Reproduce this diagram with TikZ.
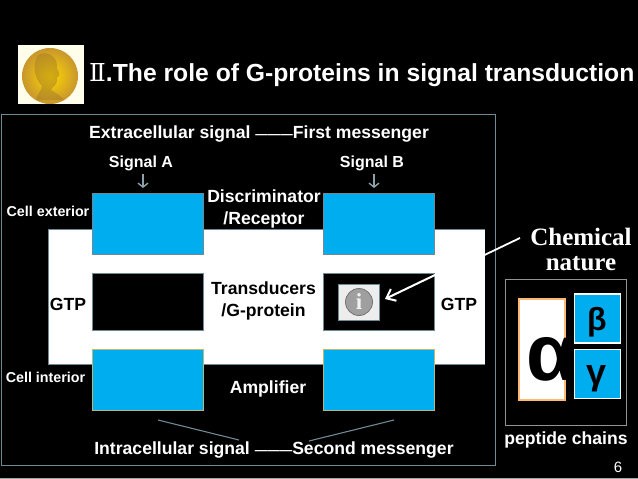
\documentclass[tikz,border=0pt]{standalone}
\usepackage{fontspec}
\usetikzlibrary{arrows.meta}
\setmainfont{Liberation Sans}
\newfontfamily\serifbold{Liberation Serif}
\newfontfamily\romanfont{DejaVu Serif}
\definecolor{framec}{HTML}{6F8A94}
\definecolor{cyanbox}{HTML}{00AEEF}
\definecolor{gold}{HTML}{C8962E}
\tikzset{
  px/.style={x=1pt,y=-1pt},
  lab/.style={text=white,font=\fontsize{#1}{22}\selectfont\bfseries,inner sep=0pt,align=center},
  lab/.default=17.6,
  dark/.style={text=black,font=\fontsize{17.6}{22}\selectfont\bfseries,inner sep=0pt,align=center},
  bluebox/.style={draw=#1,line width=1pt,fill=cyanbox,minimum width=111pt,minimum height=61pt,inner sep=0pt},
  blackbox/.style={draw=framec,line width=.8pt,fill=black,minimum width=111pt,minimum height=57pt,inner sep=0pt},
  thinline/.style={draw=framec,line width=1.1pt},
  subunit/.style={draw=white,line width=1.2pt,fill=cyanbox,minimum width=46pt,minimum height=49pt,inner sep=0pt},
}
\newcommand{\lightdash}{{\fontsize{12.5}{12.5}\selectfont ———}}
\begin{document}
\begin{tikzpicture}[px]
\useasboundingbox (0,0) rectangle (638,479);
\fill[black] (0,0) rectangle (638,479);
\draw[draw=gray!70,line width=.7pt] (0,478) -- (638,478);
% medal
\node[fill=white!92!yellow,minimum width=66pt,minimum height=59pt,inner sep=0pt] (medalbg) at (50.5,74) {};
\shade[inner color=yellow!70!orange,outer color=gold] (50,76) circle (28);
\fill[gold!80!black,opacity=.45] (38,55) .. controls (47,50) and (58,56) .. (57,68) .. controls (60,73) and (60,76) .. (57,78) .. controls (58,86) and (52,86) .. (51,90) .. controls (58,94) and (62,97) .. (64,100) -- (36,100) .. controls (38,92) and (42,90) .. (42,86) .. controls (34,78) and (32,64) .. (38,55) -- cycle;
% title
\node[anchor=base west,text=white,font=\fontsize{24.7}{25}\selectfont\bfseries,inner sep=0pt] (title) at (89,81) {{\romanfont\mdseries Ⅱ}.The role of G-proteins in signal transduction};
% frame
\draw[framec,line width=1pt] (1,114) rectangle (495.5,465);
\fill[white] (48,229) rectangle (485,364);
\draw[framec,line width=.7pt] (48,364) -- (48,229) -- (485,229);
\draw[framec,line width=.7pt] (48,364) -- (485,364);
% boxes
\node[bluebox=framec] (recA) at (148,223.5) {};
\node[bluebox=framec] (recB) at (379,223.5) {};
\node[blackbox] (gA) at (148,301.5) {};
\node[blackbox] (gB) at (379,301.5) {};
\node[bluebox=gray!60!yellow] (ampA) at (148,379.5) {};
\node[bluebox=gray!60!yellow] (ampB) at (379,379.5) {};
% info icon
\node[draw=framec,line width=1pt,fill=white!93!black,minimum width=41pt,minimum height=36pt,inner sep=0pt] (info) at (359,302) {};
\node[circle,draw=gray!90!black,line width=.8pt,fill=gray!75,minimum size=27pt,inner sep=0pt,text=white!90!gray,font=\fontsize{23}{23}\selectfont\bfseries\serifbold] (infoi) at (359,302) {i};
% labels
\node[lab] (extra) at (259,134) {Extracellular signal \lightdash First messenger};
\node[lab=16] (sigA) at (141,163) {Signal A};
\node[lab=16] (sigB) at (372,163) {Signal B};
\node[lab=14.3] (ext) at (48,211) {Cell exterior};
\node[lab=14.3] (int) at (45.5,377) {Cell interior};
\node[lab] (disc) at (264,208.5) {Discriminator\\/Receptor};
\node[dark] (trans) at (263.5,301) {Transducers\\/G-protein};
\node[dark] (gtpL) at (68,304) {GTP};
\node[dark] (gtpR) at (459,304) {GTP};
\node[lab] (ampl) at (268,389) {Amplifier};
\node[lab] (intra) at (274,450) {Intracellular signal \lightdash Second messenger};
\node[anchor=center,text=white,font=\fontsize{25}{25}\selectfont\bfseries\serifbold,align=center,inner sep=0pt] (chem) at (581,249) {Chemical\\nature};
% signal arrows
\coordinate (sigAs) at (143,174);
\coordinate (sigAe) at (143,188);
\coordinate (sigBs) at (374,174);
\coordinate (sigBe) at (374,188);
\draw[framec!80!white,line width=1.4pt,-{Straight Barb[length=4pt,width=10pt]}] (sigAs) -- (sigAe);
\draw[framec!80!white,line width=1.4pt,-{Straight Barb[length=4pt,width=10pt]}] (sigBs) -- (sigBe);
% connector lines
\coordinate (a1) at (158,420);
\coordinate (a2) at (239,440);
\coordinate (b1) at (394,420);
\coordinate (b2) at (309,441);
\draw[thinline] (a1) -- (a2);
\draw[thinline] (b1) -- (b2);
\coordinate (chemS) at (520,238);
\coordinate (chemE) at (484.5,255);
\draw[white,line width=1.8pt] (chemS) -- (chemE);
\coordinate (arrS) at (435,275);
\coordinate (arrE) at (385,299);
\draw[white,line width=2pt,-{Straight Barb[length=8pt,width=13pt]}] (arrS) -- (arrE);
% peptide panel
\node[draw=gray!85,line width=1pt,minimum width=121pt,minimum height=146pt,inner sep=0pt] (panel) at (565.5,352) {};
\node[draw=orange!55!white,line width=1.3pt,fill=white,minimum width=46pt,minimum height=101pt,inner sep=0pt] (alphabox) at (542,349.5) {};
\node[inner sep=0pt,text=black,font=\fontsize{80}{80}\selectfont\bfseries] (alpha) at (551,359) {α};
\node[subunit] (beta) at (597.5,318.5) {};
\node[subunit] (gamma) at (597.5,374) {};
\node[inner sep=0pt,text=black,font=\fontsize{32}{32}\selectfont\bfseries] (betat) at (597,322) {β};
\node[inner sep=0pt,text=black,font=\fontsize{36}{36}\selectfont\bfseries] (gammat) at (597,379) {γ};
\node[lab] (pep) at (566,440) {peptide chains};
\node[inner sep=0pt,text=white,font=\fontsize{15}{15}\selectfont] (num) at (618,467) {6};
\end{tikzpicture}
\end{document}
